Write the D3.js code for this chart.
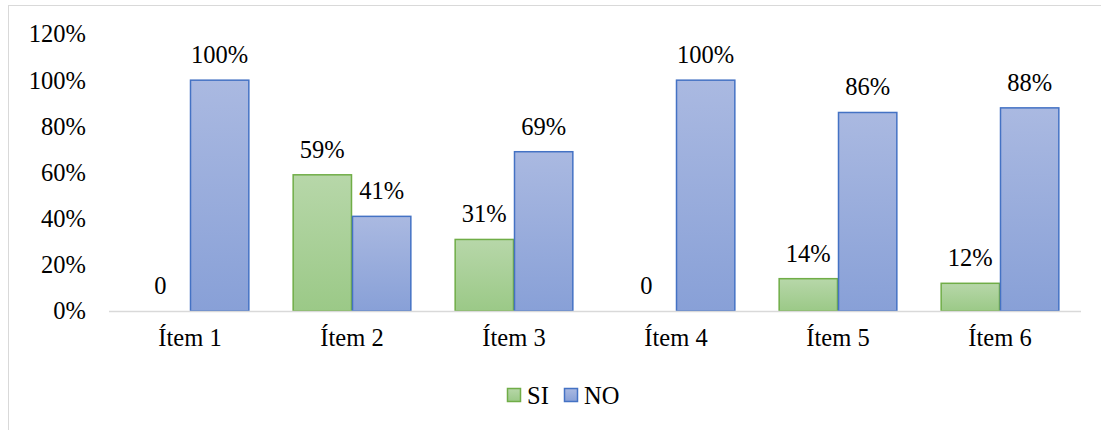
<!DOCTYPE html>
<html><head><meta charset="utf-8">
<script src="https://cdn.jsdelivr.net/npm/d3@7"></script>
<style>body{margin:0;background:#fff}svg{display:block}text{font-family:"Liberation Serif","Times New Roman",serif !important;fill:#000}</style>
</head><body><svg id="c" width="1101" height="430"></svg>
<script>
const categories = ["Ítem 1","Ítem 2","Ítem 3","Ítem 4","Ítem 5","Ítem 6"];
const seriesNames = ["SI","NO"];
const siValues = [0,0.59,0.31,0,0.14,0.12];
const noValues = [1,0.41,0.69,1,0.86,0.88];
const siLabels = ["0","59%","31%","0","14%","12%"];
const noLabels = ["100%","41%","69%","100%","86%","88%"];
const yTicks = [0,0.2,0.4,0.6,0.8,1.0,1.2];

const FS = "24.5px";
const FF = "Liberation Serif";
const svg = d3.select("#c");
const defs = svg.append("defs");
function grad(id, c1, c2){
  const g = defs.append("linearGradient").attr("id",id).attr("x1",0).attr("y1",0).attr("x2",0).attr("y2",1);
  g.append("stop").attr("offset","0%").attr("stop-color",c1);
  g.append("stop").attr("offset","100%").attr("stop-color",c2);
}
grad("gSI","#b7d7a9","#9bc987");
grad("gNO","#aab9e1","#88a0d7");
const fills = ["url(#gSI)","url(#gNO)"];
const strokes = ["#70ad47","#4472c4"];

svg.append("rect").attr("x",8.5).attr("y",5.5).attr("width",1100).attr("height",440)
  .attr("fill","none").attr("stroke","#d9d9d9").attr("stroke-width",1);

const x = d3.scaleBand().domain(categories).range([109,1081]).paddingInner(0).paddingOuter(0);
const x1 = d3.scaleBand().domain(seriesNames).range([0,x.bandwidth()]).paddingInner(0).paddingOuter(0.365);
const y = d3.scaleLinear().domain([0,1.2]).range([311,34]);

const yAxis = d3.axisLeft(y).tickValues(yTicks).tickFormat(d3.format(".0%")).tickSize(0).tickPadding(0);
const ga = svg.append("g").attr("transform","translate(86,0)").call(yAxis).attr("font-family",FF).attr("font-size",FS);
ga.select(".domain").remove();
ga.selectAll("text").style("font-size",FS).attr("fill","#000");

const data = categories.map((c,i)=>({c, vals:[siValues[i],noValues[i]], labels:[siLabels[i],noLabels[i]]}));
const groups = svg.append("g").attr("font-family",FF).selectAll("g").data(data).join("g").attr("transform",d=>`translate(${x(d.c)},0)`);
groups.selectAll("rect").data(d=>d.vals.map((v,k)=>({v,k}))).join("rect")
  .filter(d=>d.v>0)
  .attr("x",d=>x1(seriesNames[d.k])+0.5).attr("width",x1.bandwidth()-1)
  .attr("y",d=>y(d.v)).attr("height",d=>y(0)-y(d.v))
  .attr("fill",d=>fills[d.k]).attr("stroke",d=>strokes[d.k]).attr("stroke-width",1.5);
groups.selectAll("text.lbl").data(d=>d.vals.map((v,k)=>({v,k,l:d.labels[k]}))).join("text")
  .attr("class","lbl")
  .attr("x",d=>x1(seriesNames[d.k])+x1.bandwidth()/2)
  .attr("y",d=>y(d.v)-17)
  .attr("text-anchor","middle").style("font-size",FS).text(d=>d.l);

svg.append("line").attr("x1",109).attr("x2",1081).attr("y1",311.5).attr("y2",311.5).attr("stroke","#d9d9d9").attr("stroke-width",1.5);

const xAxis = d3.axisBottom(x).tickSize(0).tickPadding(0);
const gx = svg.append("g").attr("transform","translate(0,334)").call(xAxis).attr("font-family",FF).attr("font-size",FS);
gx.select(".domain").remove();
gx.selectAll("text").style("font-size",FS).attr("fill","#000").attr("dy","0.5em");

const leg = svg.append("g").attr("transform","translate(507,388)").attr("font-family",FF);
const items = [{n:"SI",x:0},{n:"NO",x:57}];
items.forEach((it,k)=>{
  leg.append("rect").attr("x",it.x+0.5).attr("y",0.5).attr("width",13).attr("height",13)
    .attr("fill",fills[k]).attr("stroke",strokes[k]).attr("stroke-width",1.5);
  leg.append("text").attr("x",it.x+20).attr("y",15.5).style("font-size",FS).text(it.n);
});
</script></body></html>
